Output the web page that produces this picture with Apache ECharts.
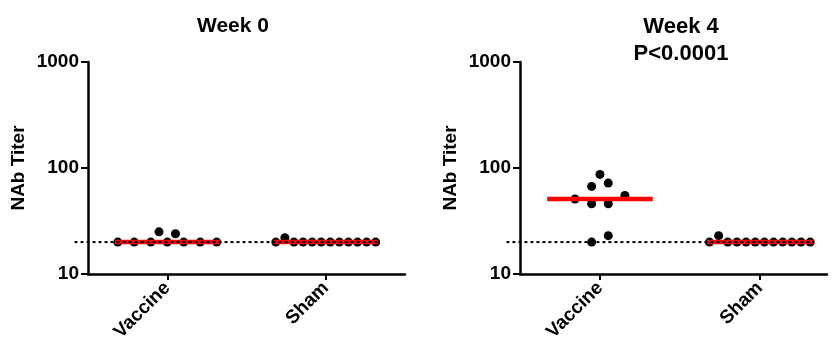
<!DOCTYPE html>
<html><head><meta charset="utf-8">
<script src="https://cdn.jsdelivr.net/npm/echarts@6/dist/echarts.min.js"></script>
<style>html,body{margin:0;padding:0;background:#fff}#c{width:832px;height:346px}</style>
</head><body><div id="c"></div>
<script>
// ---- data ----
const groups = ["Vaccine", "Sham"];
const yTicks = [10, 100, 1000];
const detectionLimit = 20;
const week0Vaccine = [20, 20, 20, 20, 20, 20, 20, 25, 24];
const week0Sham = [20, 22, 20, 20, 20, 20, 20, 20, 20, 20, 20, 20];
const week4Vaccine = [51, 46, 46, 55, 20, 23, 67, 72, 87];
const week4Sham = [20, 23, 20, 20, 20, 20, 20, 20, 20, 20, 20, 20];
const panelTitles = ["Week 0", "Week 4\nP<0.0001"];
const panelData = [[week0Vaccine, week0Sham], [week4Vaccine, week4Sham]];

// ---- helpers ----
function median(a) {
  const s = [...a].sort((x, y) => x - y), n = s.length;
  return n % 2 ? s[(n - 1) / 2] : (s[n / 2 - 1] + s[n / 2]) / 2;
}
// Simple scatter-dot layout: points whose log values chain within BIN form a row,
// rows are spread symmetrically around the category centre.
const BIN = 0.07, STEP = 0.104, MAXW = 0.63;
function swarm(values, center) {
  const idx = values.map((v, i) => i).sort((a, b) => values[a] - values[b]);
  const bins = []; let cur = [idx[0]];
  for (let k = 1; k < idx.length; k++) {
    if (Math.log10(values[idx[k]]) - Math.log10(values[idx[k - 1]]) < BIN) cur.push(idx[k]);
    else { bins.push(cur); cur = [idx[k]]; }
  }
  bins.push(cur);
  const xs = new Array(values.length);
  bins.forEach(b => {
    b.sort((p, q) => p - q);
    const n = b.length, sp = n > 1 ? Math.min(STEP, MAXW / (n - 1)) : 0;
    b.forEach((i, j) => { xs[i] = center + (j - (n - 1) / 2) * sp; });
  });
  return values.map((v, i) => [xs[i], v]);
}

const FONT = "Liberation Sans";
const grids = [
  { left: 88, top: 62, width: 317, height: 212 },
  { left: 520, top: 62, width: 307, height: 212 }
];
const xMax = [1.5, 1.42];
const titleX = [228, 676];
const titleSize = [21, 22];

const xAxis = [], yAxis = [], series = [], title = [];
grids.forEach((g, p) => {
  title.push({
    text: panelTitles[p], left: titleX[p], top: 8, textAlign: 'center',
    textStyle: { fontFamily: FONT, fontSize: titleSize[p], fontWeight: 'bold', color: '#000', lineHeight: 27 }
  });
  xAxis.push({
    gridIndex: p, type: 'value', min: -0.5, max: xMax[p],
    axisLine: { show: true, onZero: false, lineStyle: { color: '#000', width: 2.5 } },
    axisTick: { show: true, customValues: [0, 1], length: 6, lineStyle: { color: '#000', width: 2 } },
    axisLabel: {
      customValues: [0, 1], formatter: v => groups[Math.round(v)], rotate: 45, margin: 11,
      fontFamily: FONT, fontSize: 19, fontWeight: 'bold', color: '#000'
    },
    splitLine: { show: false }
  });
  yAxis.push({
    gridIndex: p, type: 'log', logBase: 10, min: yTicks[0], max: yTicks[yTicks.length - 1],
    axisLine: { show: true, onZero: false, lineStyle: { color: '#000', width: 2.5 } },
    axisTick: { show: true, length: 7, lineStyle: { color: '#000', width: 2 } },
    minorTick: { show: false },
    axisLabel: { margin: 9, formatter: v => String(Math.round(v)), fontFamily: FONT, fontSize: 19, fontWeight: 'bold', color: '#000' },
    splitLine: { show: false },
    name: 'NAb Titer', nameLocation: 'middle', nameGap: 60,
    nameTextStyle: { fontFamily: FONT, fontSize: 19, fontWeight: 'bold', color: '#000' }
  });
  panelData[p].forEach((vals, c) => {
    series.push({
      type: 'scatter', xAxisIndex: p, yAxisIndex: p, data: swarm(vals, c),
      symbolSize: 9, itemStyle: { color: '#000', opacity: 1 }, z: 2, silent: true
    });
    const m = median(vals);
    series.push({
      type: 'line', xAxisIndex: p, yAxisIndex: p, data: [[c - 0.33, m], [c + 0.33, m]],
      symbol: 'none', lineStyle: { color: '#ff0000', width: 4.5, cap: 'butt' }, z: 3, silent: true
    });
  });
  // detection-limit dotted line (extends slightly left of the y axis, as in the original)
  series.push({
    type: 'custom', xAxisIndex: p, yAxisIndex: p, clip: false, z: 4, silent: true,
    data: [[-0.585, 1.33, detectionLimit]],
    encode: { x: [0, 1], y: 2 },
    renderItem: (params, api) => {
      const a = api.coord([api.value(0), api.value(2)]);
      const b = api.coord([api.value(1), api.value(2)]);
      return {
        type: 'line', shape: { x1: a[0], y1: a[1], x2: b[0], y2: b[1] },
        style: { stroke: '#000', lineWidth: 2, lineDash: [3, 3], fill: null }
      };
    }
  });
});

const chart = echarts.init(document.getElementById('c'), null, { renderer: 'canvas' });
chart.setOption({ animation: false, backgroundColor: '#fff', title, grid: grids, xAxis, yAxis, series });
</script></body></html>
